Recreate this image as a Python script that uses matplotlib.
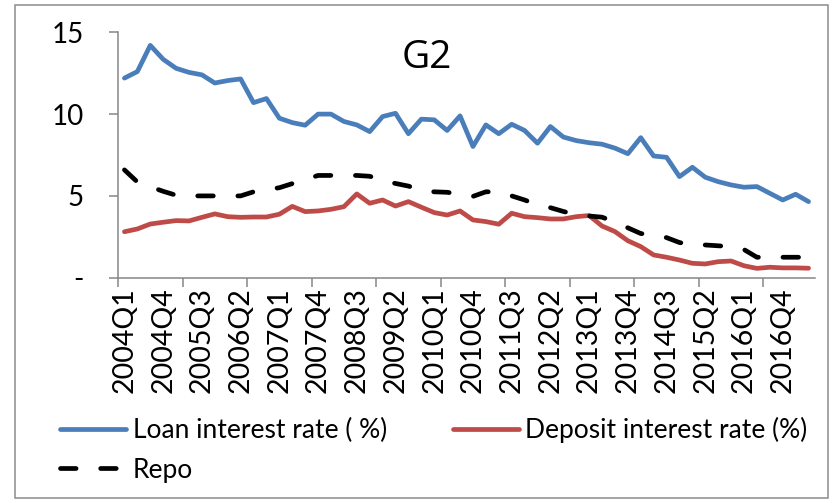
import matplotlib
matplotlib.use('Agg')
import matplotlib.pyplot as plt
from matplotlib.patches import Rectangle

# quarterly categories, 2004Q1 .. 2017Q2
quarters = [f'{y}Q{q}' for y in range(2004, 2018) for q in range(1, 5)][:54]

loan = [12.2, 12.6, 14.2, 13.35, 12.8, 12.55, 12.4, 11.9, 12.05, 12.15,
        10.7, 10.95, 9.75, 9.48, 9.32, 10.0, 10.0, 9.55, 9.34, 8.93,
        9.85, 10.05, 8.8, 9.69, 9.65, 9.0, 9.89, 8.02, 9.34, 8.8,
        9.38, 9.0, 8.22, 9.24, 8.6, 8.38, 8.25, 8.16, 7.92, 7.58,
        8.56, 7.44, 7.36, 6.18, 6.75, 6.14, 5.87, 5.67, 5.53, 5.57,
        5.16, 4.75, 5.10, 4.65]

deposit = [2.81, 2.98, 3.28, 3.39, 3.49, 3.47, 3.69, 3.90, 3.73, 3.69,
           3.71, 3.71, 3.88, 4.36, 4.04, 4.08, 4.18, 4.34, 5.12, 4.55,
           4.75, 4.38, 4.65, 4.31, 3.98, 3.83, 4.08, 3.53, 3.43, 3.27,
           3.94, 3.73, 3.67, 3.59, 3.59, 3.73, 3.8, 3.16, 2.82, 2.26,
           1.90, 1.39, 1.25, 1.08, 0.88, 0.84, 0.98, 1.02, 0.73, 0.57,
           0.64, 0.6, 0.6, 0.58]

repo = [6.59, 5.85, 5.56, 5.28, 5.04, 5.0, 5.0, 5.0, 5.0, 5.0,
        5.25, 5.38, 5.5, 5.75, 6.0, 6.25, 6.25, 6.25, 6.25, 6.2,
        5.95, 5.76, 5.6, 5.35, 5.25, 5.22, 5.1, 4.97, 5.25, 5.25,
        5.0, 4.75, 4.45, 4.28, 4.05, 3.85, 3.77, 3.7, 3.4, 3.05,
        2.7, 2.6, 2.45, 2.15, 2.0, 2.0, 1.95, 1.9, 1.72, 1.25,
        1.25, 1.25, 1.25, 1.25]

y_ticks = [0, 5, 10, 15]
y_labels = ['-', '5', '10', '15']

plt.rcParams['font.family'] = ['Lato', 'DejaVu Sans']
GRAY = '#868686'

fig = plt.figure(figsize=(8.35, 5.03), dpi=100)
ax = fig.add_axes([118 / 835, 225.3 / 503, 697 / 835, 245.4 / 503])

x = list(range(len(quarters)))
h_loan, = ax.plot(x, loan, color='#4A7EBB', lw=3.4, solid_capstyle='round',
                  solid_joinstyle='round', label='Loan interest rate ( %)')
h_dep, = ax.plot(x, deposit, color='#BE4B48', lw=3.4, solid_capstyle='round',
                 solid_joinstyle='round', label='Deposit interest rate (%)')
h_repo, = ax.plot(x, repo, color='black', lw=3.4, dashes=(3.3, 5.2),
                  dash_capstyle='round', label='Repo')

ax.set_xlim(-0.5, len(quarters) - 0.5)
ax.set_ylim(0, 15)

ax.set_xticks(x[::3])
ax.set_xticklabels(quarters[::3], rotation=90)
ax.set_xticks([i - 0.5 for i in range(0, len(quarters), 5)], minor=True)
ax.tick_params(axis='x', which='major', length=0, pad=7, labelsize=20.5)
ax.tick_params(axis='x', which='minor', length=6.5, width=1.1, color=GRAY)

ax.set_yticks(y_ticks)
ax.set_yticklabels(y_labels)
ax.tick_params(axis='y', length=6.5, width=1.1, color=GRAY, pad=18, labelsize=20)

for s in ['top', 'right']:
    ax.spines[s].set_visible(False)
for s in ['left', 'bottom']:
    ax.spines[s].set_color(GRAY)
    ax.spines[s].set_linewidth(1.1)

ax.legend([h_loan, h_repo, h_dep],
          ['Loan interest rate ( %)', 'Repo', 'Deposit interest rate (%)'],
          ncol=2, loc='upper left', bbox_to_anchor=(60 / 835, 1 - 417 / 503),
          bbox_transform=fig.transFigure, frameon=False, fontsize=19,
          handlelength=2.5, handletextpad=0.25, columnspacing=2.5,
          labelspacing=0.55, borderpad=0, borderaxespad=0)

fig.text(426.7 / 835, 1 - 58 / 503, 'G2', fontsize=28, family='Open Sans',
         ha='center', va='center')

fig.patches.append(Rectangle((15 / 835, 5 / 503), 813 / 835, 493 / 503,
                             transform=fig.transFigure, fill=False,
                             edgecolor='#8c8c8c', lw=1.1))

fig.savefig('out.png', dpi=100)
